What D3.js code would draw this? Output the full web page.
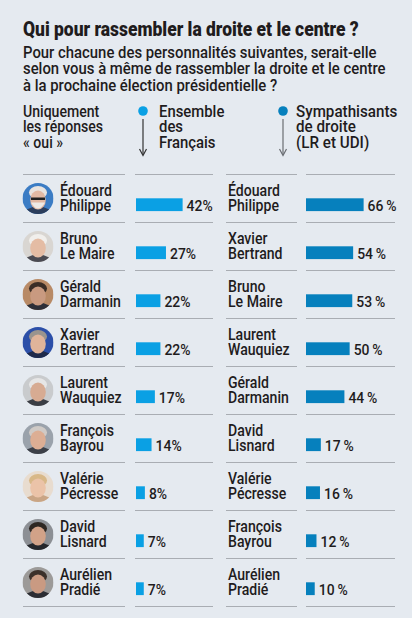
<!DOCTYPE html>
<html>
<head>
<meta charset="utf-8">
<script src="https://cdn.jsdelivr.net/npm/d3@7"></script>
<style>
  html, body { margin: 0; padding: 0; background: #e5eaf0; }
  svg { display: block; }
  text { font-family: Roboto, "Noto Sans", sans-serif; fill: #1f1c1d; }
</style>
</head>
<body>
<script>
// data
var leftFirst  = ["Édouard", "Bruno", "Gérald", "Xavier", "Laurent", "François", "Valérie", "David", "Aurélien"];
var leftLast   = ["Philippe", "Le Maire", "Darmanin", "Bertrand", "Wauquiez", "Bayrou", "Pécresse", "Lisnard", "Pradié"];
var leftValues = [42, 27, 22, 22, 17, 14, 8, 7, 7];

var rightFirst  = ["Édouard", "Xavier", "Bruno", "Laurent", "Gérald", "David", "Valérie", "François", "Aurélien"];
var rightLast   = ["Philippe", "Bertrand", "Le Maire", "Wauquiez", "Darmanin", "Lisnard", "Pécresse", "Bayrou", "Pradié"];
var rightValues = [66, 54, 53, 50, 44, 17, 16, 12, 10];

var title = "Qui pour rassembler la droite et le centre ?";
var subtitle = [
  "Pour chacune des personnalités suivantes, serait-elle",
  "selon vous à même de rassembler la droite et le centre",
  "à la prochaine élection présidentielle ?"
];
var noteLines  = ["Uniquement", "les réponses", "« oui »"];
var leftLegend = ["Ensemble", "des", "Français"];
var rightLegend = ["Sympathisants", "de droite", "(LR et UDI)"];

// rough look of each portrait (no photos available)
var faces = {
  "Philippe": { bg: "#3b7cc4", hair: "#e9e4e0", skin: "#e2b9a4", suit: "#2c3e5c" },
  "Le Maire": { bg: "#d9d6d2", hair: "#f1efec", skin: "#e4bca4", suit: "#4a4a52" },
  "Darmanin": { bg: "#b88a66", hair: "#3a2d26", skin: "#c99a80", suit: "#2d2f38" },
  "Bertrand": { bg: "#2c4fa8", hair: "#9a948e", skin: "#e0b49a", suit: "#1f2a4a" },
  "Wauquiez": { bg: "#c9cbcd", hair: "#e6e6e6", skin: "#d7ab92", suit: "#3a3d44" },
  "Bayrou":   { bg: "#9aa2ab", hair: "#cfcac6", skin: "#dcae94", suit: "#3c4048" },
  "Pécresse": { bg: "#e8dccf", hair: "#d8b888", skin: "#ebc3a8", suit: "#c9a585" },
  "Lisnard":  { bg: "#8c8f94", hair: "#2e2722", skin: "#d2a288", suit: "#25272c" },
  "Pradié":   { bg: "#9c9a98", hair: "#3b302a", skin: "#c99a82", suit: "#2b2d33" }
};

var W = 412, H = 618;
var colorAll = "#0aa0e4", colorRight = "#0680bd";

var svg = d3.select("body").append("svg")
  .attr("width", W)
  .attr("height", H);

svg.append("rect").attr("width", W).attr("height", H).attr("fill", "#e5eaf0");

// one text block, lines as tspans, squeezed horizontally (k) toward
// the narrow grotesk of the original
function block(parent, x, y, lines, lh, size, k, weight) {
  var t = parent.append("text")
    .attr("transform", "translate(" + x + "," + y + ") scale(" + k + ",1)")
    .style("font-size", size + "px")
    .style("font-weight", weight || 500);
  t.selectAll("tspan").data(lines).enter().append("tspan")
    .attr("x", 0)
    .attr("dy", function (d, i) { return i ? lh : 0; })
    .text(function (d) { return d; });
  return t;
}

// header
var tt = block(svg, 23, 36, [title], 0, 21, 1, 900);
var tw = tt.node().getComputedTextLength();
tt.attr("transform", "translate(23,36) scale(" + (336 / tw) + ",1)");

block(svg, 23, 58, subtitle, 16.5, 16, 0.93);

// legend
block(svg, 23, 117, noteLines, 15.5, 16, 0.88);
block(svg, 159, 117, leftLegend, 15.5, 16, 0.93);
block(svg, 296, 117, rightLegend, 15.5, 16, 0.95);

function legendArrow(x, color, stroke) {
  svg.append("circle").attr("cx", x).attr("cy", 111).attr("r", 4.8).attr("fill", color);
  svg.append("line")
    .attr("x1", x).attr("x2", x).attr("y1", 119).attr("y2", 155)
    .attr("stroke", stroke).attr("stroke-width", 1.2);
  svg.append("path")
    .attr("d", "M" + (x - 3.5) + ",149 L" + x + ",155.5 L" + (x + 3.5) + ",149")
    .attr("fill", "none").attr("stroke", stroke).attr("stroke-width", 1.2);
}
legendArrow(143, colorAll, "#333");
legendArrow(283, colorRight, "#6a6d72");

// rows
var rowH = 48, top0 = 174;
var y = d3.scaleBand().domain(d3.range(leftValues.length))
  .range([top0, top0 + rowH * leftValues.length]);

var xLeft  = d3.scaleLinear().domain([0, 100]).range([136, 136 + 111]);
var xRight = d3.scaleLinear().domain([0, 100]).range([306, 306 + 87.3]);

// separators
var segs = [[23, 125], [135, 213], [226, 297], [306, 395]];
var lineYs = d3.range(leftValues.length + 1).map(function (i) { return top0 + i * rowH + 0.5; });
lineYs.forEach(function (ly) {
  svg.selectAll(null).data(segs).enter().append("line")
    .attr("x1", function (d) { return d[0]; })
    .attr("x2", function (d) { return d[1]; })
    .attr("y1", ly).attr("y2", ly)
    .attr("stroke", "#a9adb3").attr("stroke-width", 1);
});

// portraits
var defs = svg.append("defs");
leftLast.forEach(function (name, i) {
  var cx = 38, cy = y(i) + 24.5, r = 15.5, f = faces[name];
  var id = "clip" + i;
  defs.append("clipPath").attr("id", id)
    .append("circle").attr("cx", cx).attr("cy", cy).attr("r", r);
  var g = svg.append("g").attr("clip-path", "url(#" + id + ")");
  g.append("rect").attr("x", cx - r).attr("y", cy - r).attr("width", 2 * r).attr("height", 2 * r).attr("fill", f.bg);
  g.append("ellipse").attr("cx", cx).attr("cy", cy + 17).attr("rx", 15).attr("ry", 9).attr("fill", f.suit);
  g.append("ellipse").attr("cx", cx).attr("cy", cy - 6).attr("rx", 9).attr("ry", 6.5).attr("fill", f.hair);
  g.append("ellipse").attr("cx", cx).attr("cy", cy + 1.5).attr("rx", 7.8).attr("ry", 9.5).attr("fill", f.skin);
  if (name === "Philippe") {
    g.append("rect").attr("x", cx - 7).attr("y", cy - 1).attr("width", 14).attr("height", 2.5).attr("fill", "#222");
    g.append("path").attr("d", "M" + (cx - 7) + "," + (cy + 4) + " Q" + cx + "," + (cy + 16) + " " + (cx + 7) + "," + (cy + 4))
      .attr("fill", "#eeeae6");
  }
});

function column(first, last, values, xName, xs, color, sep) {
  var g = svg.append("g");
  first.forEach(function (d, i) {
    block(g, xName, y(i) + 22, [d, last[i]], 15, 16, 0.88);
  });
  g.selectAll("rect").data(values).enter().append("rect")
    .attr("x", xs(0))
    .attr("y", function (d, i) { return y(i) + 24.3; })
    .attr("width", function (d) { return xs(d) - xs(0); })
    .attr("height", 12.8)
    .attr("fill", color);
  g.selectAll(".v").data(values).enter().append("text")
    .attr("class", "v")
    .attr("transform", function (d, i) {
      return "translate(" + (xs(d) + 4) + "," + (y(i) + 37) + ") scale(0.9,1)";
    })
    .style("font-size", "15.5px")
    .style("font-weight", 500)
    .text(function (d) { return d + sep + "%"; });
}
column(leftFirst, leftLast, leftValues, 60, xLeft, colorAll, "");
column(rightFirst, rightLast, rightValues, 228, xRight, colorRight, "\u2009");
</script>
</body>
</html>
